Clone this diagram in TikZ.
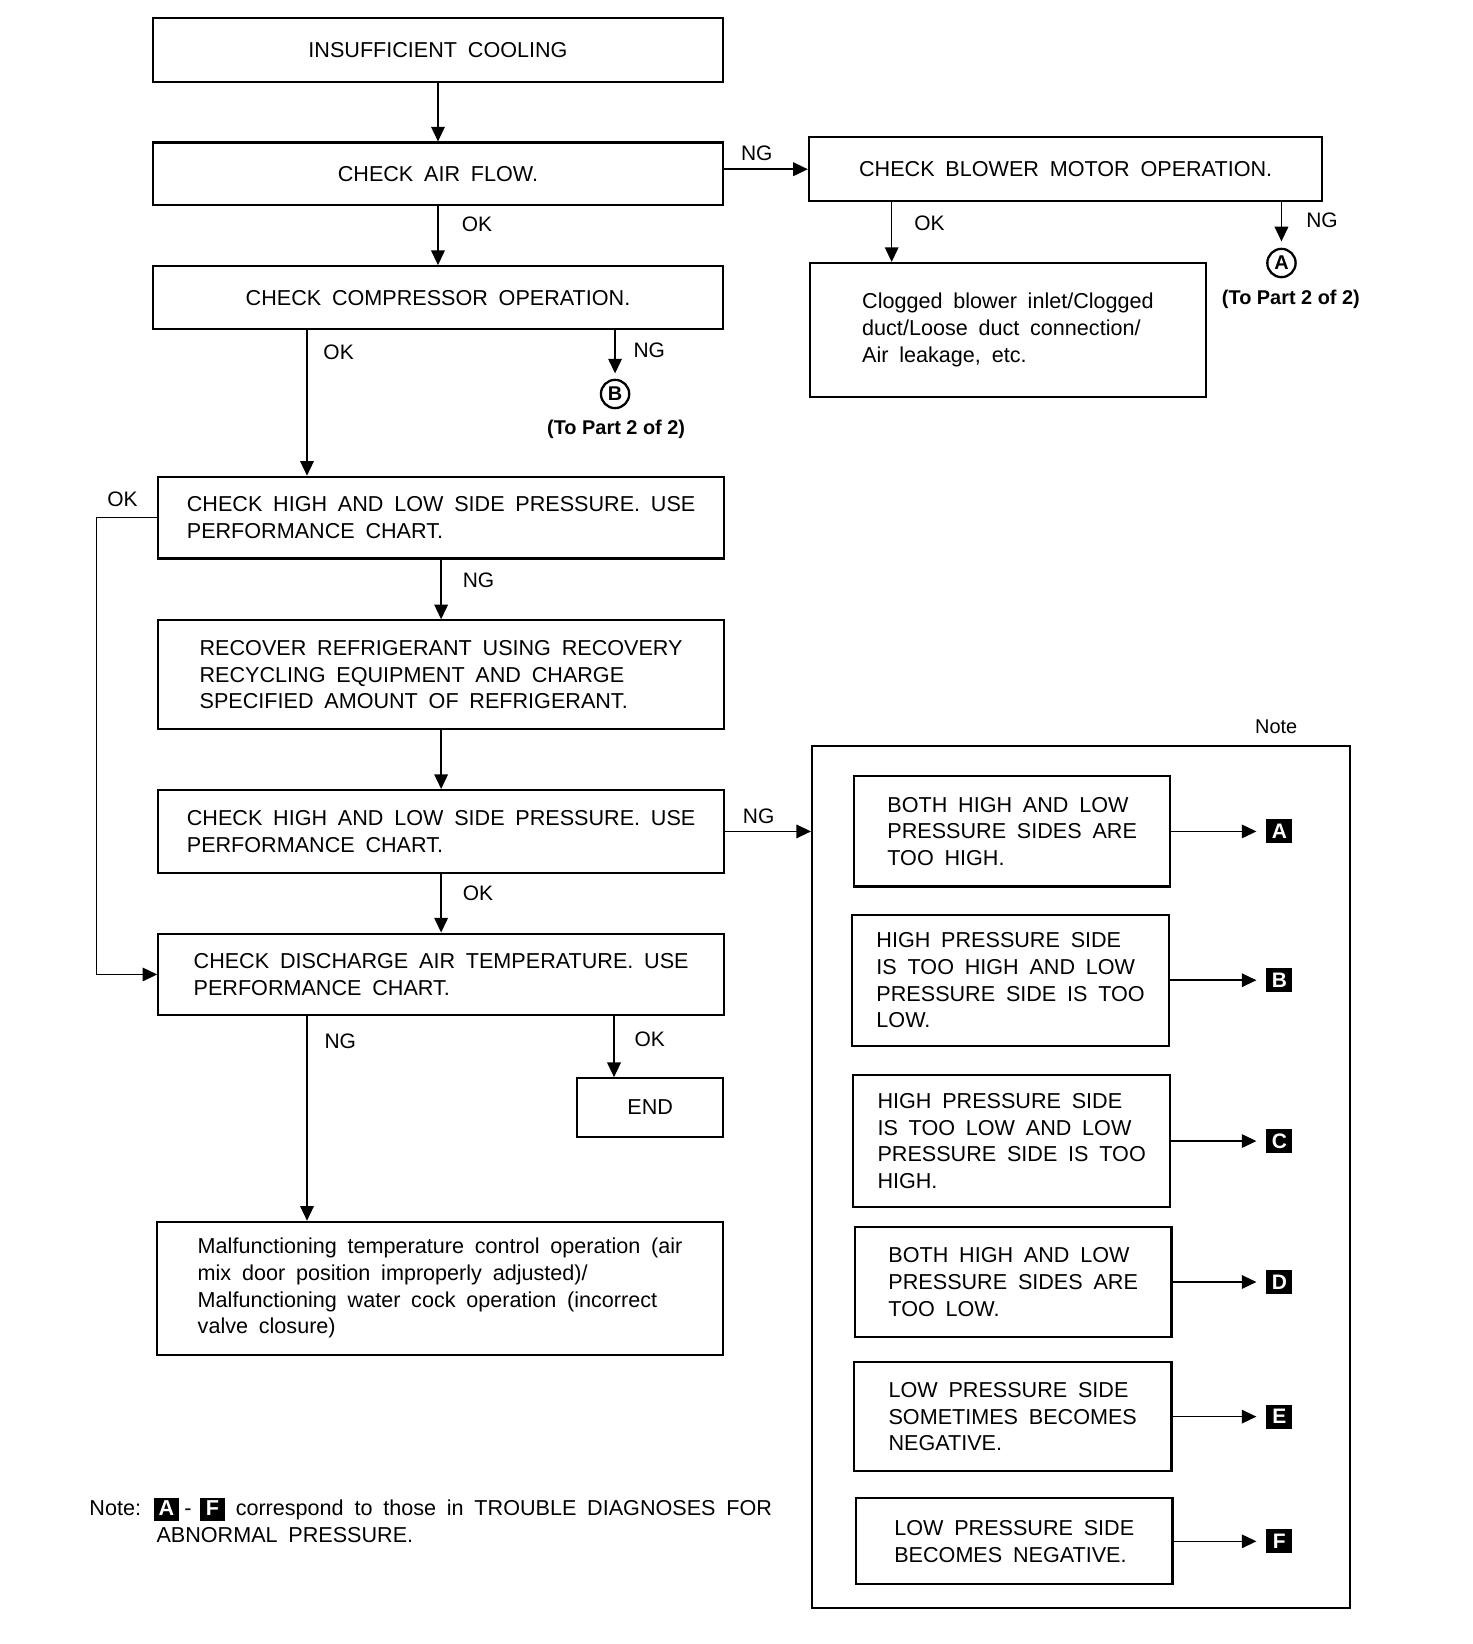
\documentclass[tikz,border=0pt]{standalone}
\usepackage{fontspec}
\setmainfont{Liberation Sans}[WordSpace=1.8]
\newfontfamily\plainfont{Liberation Sans}
\usetikzlibrary{positioning,arrows.meta}
\newcommand{\tagbox}[1]{{\setlength{\fboxsep}{1.5pt}\colorbox{black}{\makebox[9pt]{\rule[-1pt]{0pt}{7.8pt}\textcolor{white}{\bfseries #1}}}}}
\tikzset{
  box/.style={draw, line width=1pt, inner sep=0pt, align=left, font=\fontsize{10.3}{12.75}\selectfont},
  arr/.style={line width=0.7pt, -{Triangle[length=7pt,width=6.5pt]}},
  lab/.style={inner sep=0pt, font=\fontsize{10}{12}\selectfont},
  circ/.style={circle, draw, line width=1.1pt, inner sep=0pt, minimum size=13.5pt, font=\plainfont\bfseries\fontsize{9.5}{9.5}\selectfont},
  part/.style={inner sep=0pt, font=\plainfont\bfseries\fontsize{9.5}{11}\selectfont},
  tag/.style={fill=black, text=white, inner sep=0pt, minimum width=12.5pt, minimum height=11.5pt, font=\bfseries\fontsize{10}{10}\selectfont}
}
\begin{document}
\begin{tikzpicture}[x=0.5pt,y=-0.5pt]
        %BACKGROUND
        \fill[white] (0,0) rectangle (1405,1569);
        \useasboundingbox (0,0) rectangle (1405,1569);
        %COLUMNS
        \coordinate (colL) at (293,0);
        \coordinate (colR) at (586,0);
        \coordinate (colB) at (851,0);
        \coordinate (colT) at (1221,0);

        %BOXES LEFT
        \node[box, minimum width=272pt, minimum height=30.5pt] (ins) at (418,47.5) {INSUFFICIENT COOLING};
        \node[box, minimum width=272pt, minimum height=30pt] (air) at (418,166) {CHECK AIR FLOW.};
        \node[box, minimum width=272pt, minimum height=30pt] (comp) at (418,284) {CHECK COMPRESSOR OPERATION.};
        \node[box, minimum width=270pt, minimum height=39pt] (hla) at (421,494) {CHECK HIGH AND LOW SIDE PRESSURE. USE\\PERFORMANCE CHART.};
        \node[box, minimum width=270pt, minimum height=52pt] (rec) at (421,644) {RECOVER REFRIGERANT USING RECOVERY\\RECYCLING EQUIPMENT AND CHARGE\\SPECIFIED AMOUNT OF REFRIGERANT.};
        \node[box, minimum width=270pt, minimum height=39.5pt] (hlb) at (421,793.5) {CHECK HIGH AND LOW SIDE PRESSURE. USE\\PERFORMANCE CHART.};
        \node[box, minimum width=270pt, minimum height=39pt] (dis) at (421,930) {CHECK DISCHARGE AIR TEMPERATURE. USE\\PERFORMANCE CHART.};
        \node[box, minimum width=69.5pt, minimum height=28pt] (fin) at (620.5,1057) {END};
        \node[box, minimum width=270pt, minimum height=63.5pt] (mal) at (420,1229.5) {Malfunctioning temperature control operation (air\\mix door position improperly adjusted)/\\Malfunctioning water cock operation (incorrect\\valve closure)};

        %BOXES RIGHT
        \node[box, minimum width=245pt, minimum height=30.5pt] (blow) at (1017,161.5) {CHECK BLOWER MOTOR OPERATION.};
        \node[box, minimum width=189pt, minimum height=64pt] (clog) at (962,315) {Clogged blower inlet/Clogged\\duct/Loose duct connection/\\Air leakage, etc.};
        \node[circ] (pA) at (1223,251) {A};
        \node[part, below=5.5pt of pA, xshift=4.5pt] (partA) {(To Part 2 of 2)};
        \node[circ] (pB) at (587,376) {B};
        \node[part, below=5pt of pB, xshift=0.5pt] (partB) {(To Part 2 of 2)};

        %NOTE
        \node[draw, line width=1pt, inner sep=0pt, minimum width=256.5pt, minimum height=411.5pt] (note) at (1031.5,1123.5) {};
        \node[lab, font=\plainfont\fontsize{9.5}{11}\selectfont] (notelab) at (1218,694) {Note};
        \node[box, minimum width=151pt, minimum height=52.5pt] (bA) at (966,793.5) {BOTH HIGH AND LOW\\PRESSURE SIDES ARE\\TOO HIGH.};
        \node[box, minimum width=151.5pt, minimum height=62.5pt] (bB) at (964.5,935.5) {HIGH PRESSURE SIDE\\IS TOO HIGH AND LOW\\PRESSURE SIDE IS TOO\\LOW.};
        \node[box, minimum width=151.5pt, minimum height=63pt] (bC) at (965.5,1089) {HIGH PRESSURE SIDE\\IS TOO LOW AND LOW\\PRESSURE SIDE IS TOO\\HIGH.};
        \node[box, minimum width=151pt, minimum height=52.5pt] (bD) at (967,1223.5) {BOTH HIGH AND LOW\\PRESSURE SIDES ARE\\TOO LOW.};
        \node[box, minimum width=151.5pt, minimum height=52pt] (bE) at (966.5,1352) {LOW PRESSURE SIDE\\SOMETIMES BECOMES\\NEGATIVE.};
        \node[box, minimum width=151pt, minimum height=41pt] (bF) at (968,1471) {LOW PRESSURE SIDE\\BECOMES NEGATIVE.};
        \node[tag] (tA) at (bA.east -| colT) {A};
        \node[tag] (tB) at (bB.east -| colT) {B};
        \node[tag] (tC) at (bC.east -| colT) {C};
        \node[tag] (tD) at (bD.east -| colT) {D};
        \node[tag] (tE) at (bE.east -| colT) {E};
        \node[tag] (tF) at (bF.east -| colT) {F};

        %ARROWS
        \draw[arr] (ins) -- (air);
        \draw[arr] (air) -- node[lab, pos=0.31, right=11pt] {OK} (comp);
        \draw[arr] (blow.west -| air.east) -- node[lab, pos=0.39, above=3.5pt] {NG} (blow.west);
        \draw[arr] (blow.south -| colB) -- node[lab, pos=0.36, right=10.5pt] {OK} (clog.north -| colB);
        \draw[arr, shorten >=3pt] (blow.south -| pA) -- node[lab, pos=0.39, right=11.5pt] {NG} (pA.north);
        \draw[arr] (comp.south -| colL) -- node[lab, pos=0.15, right=7.5pt] {OK} (hla.north -| colL);
        \draw[arr, shorten >=2.5pt] (comp.south -| pB) -- node[lab, pos=0.42, right=8.5pt] {NG} (pB.north);
        \draw[arr] (hla.west) -- node[lab, pos=0.57, above=5pt] {OK} ++(-58,0) |- (dis.west);
        \draw[arr] (hla) -- node[lab, pos=0.34, right=10pt] {NG} (rec);
        \draw[arr] (rec) -- (hlb);
        \draw[arr] (hlb.east) -- node[lab, pos=0.39, above=3.5pt] {NG} (hlb.east -| note.west);
        \draw[arr] (hlb) -- node[lab, pos=0.33, right=10pt] {OK} (dis);
        \draw[arr] (dis.south -| colL) -- node[lab, pos=0.12, right=8pt] {NG} (mal.north -| colL);
        \draw[arr] (dis.south -| colR) -- node[lab, pos=0.37, right=9.5pt] {OK} (fin.north -| colR);
        \draw[arr, shorten >=4.5pt] (bA) -- (tA);
        \draw[arr, shorten >=4.5pt] (bB) -- (tB);
        \draw[arr, shorten >=4.5pt] (bC) -- (tC);
        \draw[arr, shorten >=4.5pt] (bD) -- (tD);
        \draw[arr, shorten >=4.5pt] (bE) -- (tE);
        \draw[arr, shorten >=4.5pt] (bF) -- (tF);

        %FOOTNOTE
        \node[lab, font=\fontsize{10.3}{12.75}\selectfont, align=left, anchor=north west] (foot) at (85,1429) {Note: \tagbox{A}\hspace{2.5pt}-\hspace{4pt}\tagbox{F} correspond to those in TROUBLE DIAGNOSES FOR\\\hspace*{32pt}ABNORMAL PRESSURE.};
\end{tikzpicture}
\end{document}
